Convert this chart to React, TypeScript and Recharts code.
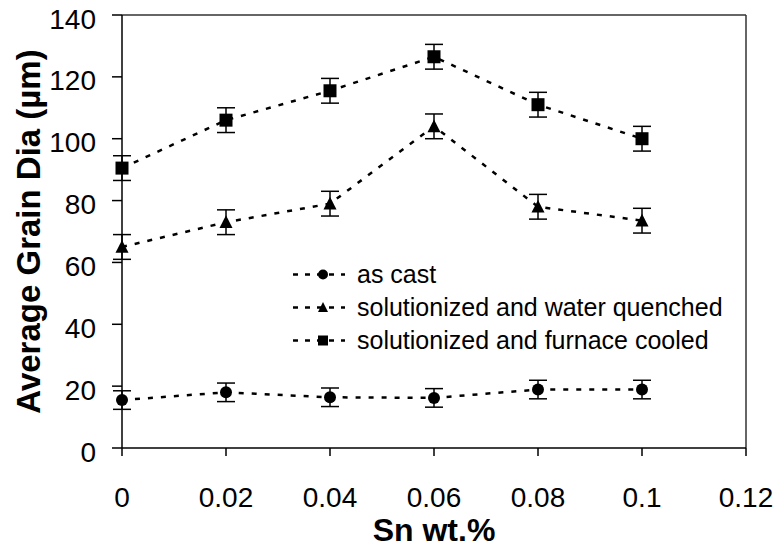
import { LineChart, Line, XAxis, YAxis, ErrorBar, ReferenceLine, Legend, Label } from 'recharts'

const FONT = '"Liberation Sans", Arial, Helvetica, sans-serif'

// Sn content (wt.%)
const snContent = [0, 0.02, 0.04, 0.06, 0.08, 0.1]

// average grain diameter (µm)
const asCast = [15.5, 18, 16.4, 16.2, 18.9, 18.9]
const asCastErr = [3, 3, 3, 3, 3, 3]
const waterQuenched = [65, 73, 79, 104, 78, 73.5]
const waterQuenchedErr = [4, 4, 4, 4, 4, 4]
const furnaceCooled = [90.5, 106, 115.5, 126.5, 111, 100]
const furnaceCooledErr = [4, 4, 4, 4, 4, 4]

const seriesNames = [
  'as cast',
  'solutionized and water quenched',
  'solutionized and furnace cooled',
]

const xTicks = [0, 0.02, 0.04, 0.06, 0.08, 0.1, 0.12]
const yTicks = [0, 20, 40, 60, 80, 100, 120, 140]

const data = snContent.map((sn, i) => ({
  sn,
  cast: asCast[i],
  castErr: asCastErr[i],
  water: waterQuenched[i],
  waterErr: waterQuenchedErr[i],
  furnace: furnaceCooled[i],
  furnaceErr: furnaceCooledErr[i],
}))

type Shape = 'circle' | 'triangle' | 'square'
const shapes: Shape[] = ['circle', 'triangle', 'square']

function marker(shape: Shape, cx: number, cy: number, s: number, key?: string) {
  if (shape === 'circle') {
    return <circle key={key} cx={cx} cy={cy} r={s / 2} fill="#000" />
  }
  if (shape === 'triangle') {
    const h = s * 0.9
    return (
      <polygon
        key={key}
        points={`${cx},${cy - h / 2 - 1} ${cx - s / 2},${cy + h / 2} ${cx + s / 2},${cy + h / 2}`}
        fill="#000"
      />
    )
  }
  return <rect key={key} x={cx - s / 2} y={cy - s / 2} width={s} height={s} fill="#000" />
}

const makeDot = (shape: Shape) => (p: any) =>
  marker(shape, p.cx, p.cy, shape === 'circle' ? 12 : 13, `${shape}-${p.index}`)

const XTick = ({ x, y, payload }: any) => (
  <text x={x} y={y} dy="0.71em" textAnchor="middle" fontSize={28} fontFamily={FONT} fill="#000">
    {String(payload.value)}
  </text>
)

const YTick = ({ x, y, payload }: any) => (
  <text x={x} y={y + 4} textAnchor="end" dominantBaseline="central" fontSize={28} fontFamily={FONT} fill="#000">
    {payload.value}
  </text>
)

const renderLegend = () => (
  <div style={{ fontFamily: FONT, fontSize: 25, color: '#000' }}>
    {seriesNames.map((name, i) => (
      <div key={name} style={{ display: 'flex', alignItems: 'center', height: 33 }}>
        <svg width={56} height={33} style={{ marginRight: 11 }}>
          <line x1={3} y1={16.5} x2={55} y2={16.5} stroke="#000" strokeWidth={2.5} strokeDasharray="5 7" />
          {marker(shapes[i], 33, 16.5, 10)}
        </svg>
        <span style={{ whiteSpace: 'nowrap' }}>{name}</span>
      </div>
    ))}
  </div>
)

export default function App() {
  const series = [
    { key: 'cast', err: 'castErr' },
    { key: 'water', err: 'waterErr' },
    { key: 'furnace', err: 'furnaceErr' },
  ]

  return (
    <div style={{ position: 'absolute', left: 0, top: 0, background: '#fff' }}>
      <LineChart
        width={776}
        height={547}
        data={data}
        margin={{ top: 15, right: 30, left: 0, bottom: 0 }}
      >
        <XAxis
          dataKey="sn"
          type="number"
          domain={[0, 0.12]}
          ticks={xTicks}
          height={99}
          tickSize={8}
          tickMargin={31}
          tick={<XTick />}
          stroke="#000"
          strokeWidth={1.5}
        >
          <Label
            content={({ viewBox }: any) => (
              <text
                x={viewBox.x + viewBox.width / 2}
                y={530}
                textAnchor="middle"
                dominantBaseline="central"
                fontSize={32}
                fontWeight="bold"
                fontFamily={FONT}
                fill="#000"
              >
                Sn wt.%
              </text>
            )}
          />
        </XAxis>
        <YAxis
          type="number"
          domain={[0, 140]}
          ticks={yTicks}
          width={122}
          tickSize={10}
          tickMargin={16}
          tick={<YTick />}
          stroke="#000"
          strokeWidth={1.5}
        >
          <Label
            content={({ viewBox }: any) => {
              const cy = viewBox.y + viewBox.height / 2
              return (
                <text
                  x={28}
                  y={cy}
                  transform={`rotate(-90 28 ${cy})`}
                  textAnchor="middle"
                  dominantBaseline="central"
                  fontSize={33}
                  fontWeight="bold"
                  fontFamily={FONT}
                  fill="#000"
                >
                  Average Grain Dia (µm)
                </text>
              )
            }}
          />
        </YAxis>
        <ReferenceLine y={140} stroke="#333" strokeWidth={1.5} />
        <ReferenceLine x={0.12} stroke="#333" strokeWidth={1.5} />
        <Legend
          layout="vertical"
          align="center"
          verticalAlign="middle"
          content={renderLegend}
          wrapperStyle={{ left: 290, top: 258, width: 460 }}
        />
        {series.map((s, i) => (
          <Line
            key={s.key}
            dataKey={s.key}
            name={seriesNames[i]}
            type="linear"
            stroke="#000"
            strokeWidth={2.5}
            strokeDasharray="5 8"
            dot={makeDot(shapes[i])}
            activeDot={false}
            isAnimationActive={false}
          >
            <ErrorBar dataKey={s.err} direction="y" width={9} stroke="#000" strokeWidth={1.5} />
          </Line>
        ))}
      </LineChart>
    </div>
  )
}
